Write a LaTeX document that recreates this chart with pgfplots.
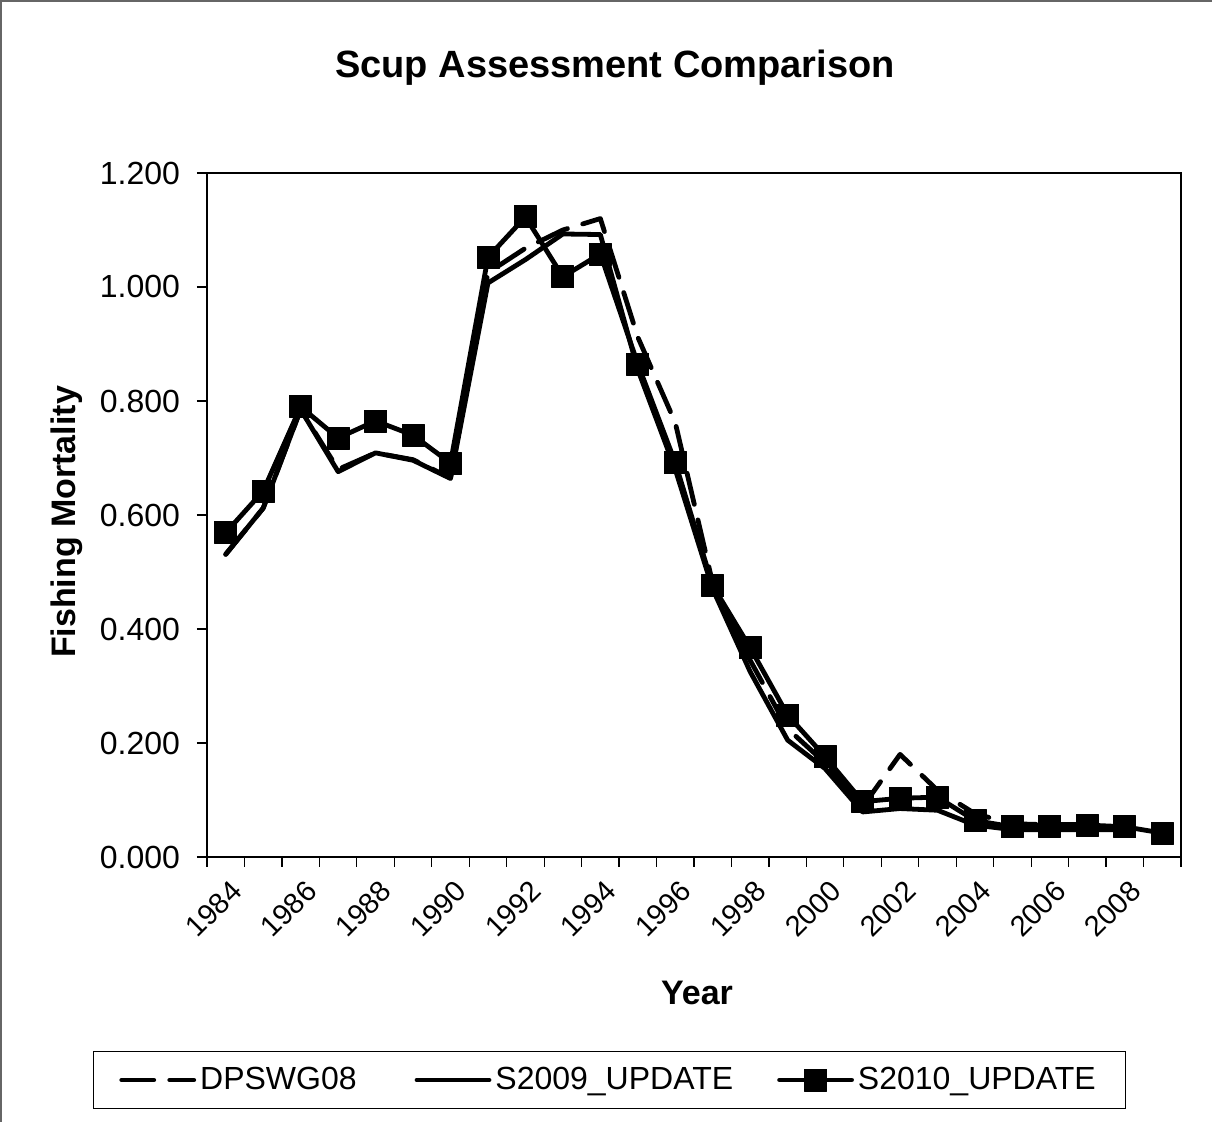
\documentclass[border=0pt]{standalone}
\usepackage{fontspec}
\setmainfont{Liberation Sans}
\usepackage{pgfplots}
\pgfplotsset{compat=1.18}
\pgfplotstableread{
x y
0 0.531
1 0.612
2 0.785
3 0.680
4 0.709
5 0.697
6 0.665
7 1.025
8 1.068
9 1.100
10 1.120
11 0.912
12 0.762
13 0.480
14 0.345
15 0.225
16 0.165
17 0.088
18 0.180
19 0.117
20 0.076
21 0.058
22 0.057
23 0.057
}\dpswg
\pgfplotstableread{
x y
0 0.531
1 0.612
2 0.785
3 0.676
4 0.709
5 0.696
6 0.664
7 1.007
8 1.048
9 1.093
10 1.092
11 0.855
12 0.680
13 0.470
14 0.325
15 0.205
16 0.155
17 0.079
18 0.085
19 0.082
20 0.056
21 0.048
22 0.048
23 0.048
24 0.048
}\stwonine
\pgfplotstableread{
x y
0 0.569
1 0.642
2 0.790
3 0.735
4 0.765
5 0.740
6 0.691
7 1.052
8 1.123
9 1.018
10 1.058
11 0.865
12 0.692
13 0.476
14 0.367
15 0.249
16 0.176
17 0.097
18 0.103
19 0.105
20 0.064
21 0.053
22 0.054
23 0.056
24 0.053
25 0.042
}\stwoten
\begin{document}
\begin{tikzpicture}[x=1pt,y=1pt]
\path[use as bounding box] (0,0) rectangle (606,561);
\draw[black!60, line width=1pt] (0.5,-5) -- (0.5,560.3) -- (612,560.3);
\node[font=\bfseries\fontsize{19}{19}\selectfont] at (307.5,527) {Scup Assessment Comparison};
\node[font=\bfseries\fontsize{17}{17}\selectfont, rotate=90] at (33.5,300) {Fishing Mortality};
\node[font=\bfseries\fontsize{17}{17}\selectfont] at (348.5,64.5) {Year};
\begin{axis}[
  at={(103.5pt,132.5pt)}, anchor=south west,
  width=487pt, height=342pt, scale only axis,
  xmin=-0.5, xmax=25.5, ymin=0, ymax=1.2,
  axis line style={line width=1.3pt},
  xtick={0,2,...,24},
  xticklabels={1984,1986,1988,1990,1992,1994,1996,1998,2000,2002,2004,2006,2008},
  minor xtick={-0.5,0.5,...,25.5},
  major x tick style={draw=none},
  xticklabel style={font=\fontsize{14.5}{14.5}\selectfont, xshift=5.5pt, yshift=-9.5pt, rotate=45, anchor=east, inner sep=0pt},
  ytick={0,0.2,...,1.2},
  tick align=outside, major tick length=5pt, minor tick length=5pt,
  tick style={black, line width=0.6pt},
  xtick pos=bottom, ytick pos=left,
  yticklabel style={/pgf/number format/.cd, fixed, fixed zerofill, precision=3, assume math mode=true, /tikz/.cd, xshift=-5pt, font=\fontsize{16}{16}\selectfont},
  legend columns=3,
  legend style={at={(0.4133,-0.326)}, anchor=center, draw=black, line width=0.6pt,
    font=\fontsize{16}{16}\selectfont, inner xsep=13pt, inner ysep=6pt,
    /tikz/column 2/.style={column sep=27pt},
    /tikz/column 4/.style={column sep=20pt}},
  legend image code/.code={\draw[mark repeat=2,mark phase=2] plot coordinates {(0pt,0pt) (18pt,0pt) (36pt,0pt)};},
  every axis plot/.append style={line width=2.4pt, line join=round, line cap=round},
]
\addplot[black, dash pattern=on 16pt off 8pt, no marks] table[x=x,y=y] {\dpswg};
\addlegendentry{DPSWG08}
\addplot[black, no marks] table[x=x,y=y] {\stwonine};
\addlegendentry{S2009\_UPDATE}
\addplot[black, mark=square*, mark size=5.5pt, mark options={solid, fill=black, line width=0.4pt}] table[x=x,y=y] {\stwoten};
\addlegendentry{S2010\_UPDATE}
\end{axis}
\end{tikzpicture}
\end{document}
